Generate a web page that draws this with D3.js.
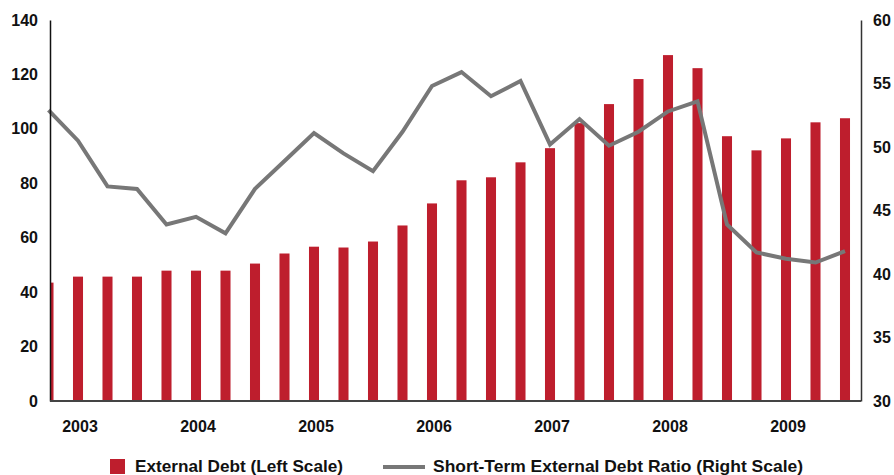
<!DOCTYPE html>
<html>
<head>
<meta charset="utf-8">
<script src="https://cdn.jsdelivr.net/npm/d3@7"></script>
<style>
  html, body { margin: 0; padding: 0; background: #fff; }
  svg { display: block; font-family: "Liberation Sans", Arial, sans-serif; font-weight: bold; }
</style>
</head>
<body>
<svg id="chart" width="894" height="475"></svg>
<script>
// Quarterly data 2003 Q1 – 2009 Q4
const years = ["2003", "2004", "2005", "2006", "2007", "2008", "2009"];
const quarters = ["Q1", "Q2", "Q3", "Q4"];
const externalDebt = [43.5, 45.7, 45.7, 45.7, 47.9, 47.9, 47.9, 50.5,
                      54.2, 56.7, 56.4, 58.6, 64.5, 72.6, 81.1, 82.2,
                      87.7, 92.9, 102.1, 109.1, 118.3, 127.1, 122.3, 97.3,
                      92.1, 96.5, 102.4, 103.9];
const shortTermRatio = [52.9, 50.5, 46.9, 46.7, 43.9, 44.5, 43.2, 46.7,
                        48.9, 51.1, 49.5, 48.1, 51.2, 54.8, 55.9, 54.0,
                        55.2, 50.2, 52.2, 50.1, 51.2, 52.8, 53.6, 43.9,
                        41.7, 41.2, 40.9, 41.8];
const leftTicks = [0, 20, 40, 60, 80, 100, 120, 140];
const rightTicks = [30, 35, 40, 45, 50, 55, 60];
const seriesNames = ["External Debt (Left Scale)", "Short-Term External Debt Ratio (Right Scale)"];

const periods = [];
years.forEach(y => quarters.forEach(q => periods.push(y + " " + q)));

const svg = d3.select("#chart");
const plotLeft = 50, plotRight = 861, plotTop = 20, plotBottom = 401;

const x = d3.scaleBand()
  .domain(periods)
  .range([33.75, 859.75])
  .paddingInner(0.66)
  .paddingOuter(0.33);
const yL = d3.scaleLinear().domain([0, 140]).range([plotBottom, plotTop]);
const yR = d3.scaleLinear().domain([30, 60]).range([plotBottom, plotTop]);

const barColor = "#BE1E2D";
const lineColor = "#777777";

svg.append("defs").append("clipPath").attr("id", "plotclip")
  .append("rect")
  .attr("x", plotLeft).attr("y", 0)
  .attr("width", plotRight - plotLeft).attr("height", plotBottom + 2);

const plot = svg.append("g").attr("clip-path", "url(#plotclip)");

plot.selectAll("rect.bar")
  .data(externalDebt)
  .join("rect")
  .attr("class", "bar")
  .attr("x", (d, i) => x(periods[i]))
  .attr("width", x.bandwidth())
  .attr("y", d => yL(d))
  .attr("height", d => yL(0) - yL(d))
  .attr("fill", barColor);

const line = d3.line()
  .x((d, i) => x(periods[i]) + x.bandwidth() / 2)
  .y(d => yR(d));

svg.append("path")
  .datum(shortTermRatio)
  .attr("d", line)
  .attr("fill", "none")
  .attr("stroke", lineColor)
  .attr("stroke-width", 4)
  .attr("stroke-linejoin", "miter");

// Axes
const leftAxis = d3.axisLeft(yL).tickValues(leftTicks).tickSize(0).tickPadding(12);
const gL = svg.append("g").attr("transform", `translate(${plotLeft},0)`).call(leftAxis);
gL.select(".domain").attr("stroke", "#111").attr("stroke-width", 1.5);
gL.selectAll("text").attr("font-size", 16).attr("font-weight", "bold").attr("fill", "#111")
  .attr("font-family", "Liberation Sans, Arial, sans-serif");

const rightAxis = d3.axisRight(yR).tickValues(rightTicks).tickSize(0).tickPadding(12);
const gR = svg.append("g").attr("transform", `translate(${plotRight},0)`).call(rightAxis);
gR.select(".domain").attr("stroke", "#333").attr("stroke-width", 1.5);
gR.selectAll("text").attr("font-size", 16).attr("font-weight", "bold").attr("fill", "#111")
  .attr("font-family", "Liberation Sans, Arial, sans-serif");

// Baseline
svg.append("line")
  .attr("x1", plotLeft).attr("x2", plotRight)
  .attr("y1", yL(0)).attr("y2", yL(0))
  .attr("stroke", "#444").attr("stroke-width", 2);

// Year labels
svg.append("g").selectAll("text")
  .data(years)
  .join("text")
  .attr("x", (d, k) => x(periods[4 * k + 1]) + x.bandwidth() / 2 + 2)
  .attr("y", 432)
  .attr("text-anchor", "middle")
  .attr("font-size", 16)
  .attr("fill", "#111")
  .text(d => d);

// Legend
const lg = svg.append("g");
lg.append("rect").attr("x", 110).attr("y", 459).attr("width", 15).attr("height", 15).attr("fill", barColor);
lg.append("text").attr("x", 135).attr("y", 471.5).attr("font-size", 17.3).attr("fill", "#111")
  .attr("textLength", 208).attr("lengthAdjust", "spacingAndGlyphs").text(seriesNames[0]);
lg.append("line").attr("x1", 383).attr("x2", 425).attr("y1", 467).attr("y2", 467)
  .attr("stroke", lineColor).attr("stroke-width", 4);
lg.append("text").attr("x", 433).attr("y", 471.5).attr("font-size", 17.3).attr("fill", "#111")
  .attr("textLength", 370).attr("lengthAdjust", "spacingAndGlyphs").text(seriesNames[1]);
</script>
</body>
</html>
